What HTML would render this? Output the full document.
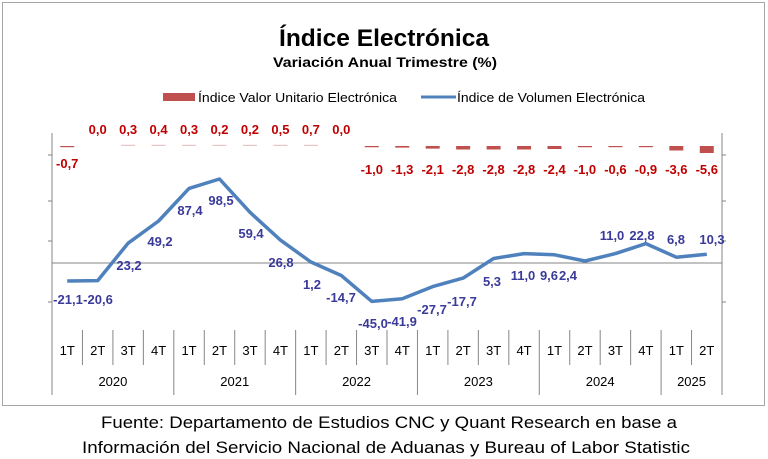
<!DOCTYPE html>
<html><head><meta charset="utf-8"><style>
html,body{margin:0;padding:0;background:#fff}
svg{display:block}
text{font-family:"Liberation Sans",sans-serif}
</style></head><body>
<svg width="768" height="459" viewBox="0 0 768 459">
<rect x="2.5" y="2.5" width="762" height="403" fill="#fff" stroke="#a6a6a6" stroke-width="1"/>
<text x="384" y="46" text-anchor="middle" font-size="24" font-weight="bold" textLength="210" lengthAdjust="spacingAndGlyphs">Índice Electrónica</text>
<text x="385" y="67" text-anchor="middle" font-size="14" font-weight="bold" textLength="224" lengthAdjust="spacingAndGlyphs">Variación Anual Trimestre  (%)</text>
<rect x="163" y="93" width="32" height="8" fill="#c0504d"/>
<text x="198" y="102" font-size="13" textLength="199" lengthAdjust="spacingAndGlyphs">Índice Valor Unitario Electrónica</text>
<line x1="421" y1="97" x2="456" y2="97" stroke="#4f81bd" stroke-width="3"/>
<text x="457" y="102" font-size="13" textLength="188" lengthAdjust="spacingAndGlyphs">Índice de Volumen Electrónica</text>
<g stroke="#868686" stroke-width="1" fill="none">
<line x1="52" y1="133" x2="52" y2="330"/>
<line x1="722" y1="133" x2="722" y2="330"/>
<line x1="52" y1="263" x2="722" y2="263"/>
<line x1="48" y1="155" x2="52" y2="155"/><line x1="48" y1="201" x2="52" y2="201"/><line x1="48" y1="241" x2="52" y2="241"/><line x1="48" y1="302" x2="52" y2="302"/>
<line x1="722" y1="155" x2="726" y2="155"/><line x1="722" y1="201" x2="726" y2="201"/><line x1="722" y1="241" x2="726" y2="241"/><line x1="722" y1="302" x2="726" y2="302"/>
</g>
<g id="cats" stroke="#868686" stroke-width="1"></g>
<g id="bars"></g>
<polyline id="ln" fill="none" stroke="#4f81bd" stroke-width="3.5" stroke-linejoin="round"/>
<g id="lbl" font-size="13" font-weight="bold" fill="#3a3a9a" text-anchor="middle"></g>
<g id="blbl" font-size="13" font-weight="bold" fill="#c00000" text-anchor="middle"></g>
<g id="tk" font-size="13" fill="#000" text-anchor="middle"></g>
<text x="389" y="428" text-anchor="middle" font-size="17" textLength="576" lengthAdjust="spacingAndGlyphs">Fuente: Departamento de Estudios CNC y Quant Research en base a</text>
<text x="386" y="453" text-anchor="middle" font-size="17" textLength="608" lengthAdjust="spacingAndGlyphs">Información del Servicio Nacional de Aduanas y Bureau of Labor Statistic</text>
</svg>
<script>
var NS="http://www.w3.org/2000/svg";
function el(p,t,a,tx){var e=document.createElementNS(NS,t);for(var k in a)e.setAttribute(k,a[k]);if(tx!=null)e.textContent=tx;document.getElementById(p).appendChild(e);}
var w=670/22,x0=52;
var v=[-21.1,-20.6,23.2,49.2,87.4,98.5,59.4,26.8,1.2,-14.7,-45.0,-41.9,-27.7,-17.7,5.3,11.0,9.6,2.4,11.0,22.8,6.8,10.3];
var b=[-0.7,0,0.3,0.4,0.3,0.2,0.2,0.5,0.7,0,-1.0,-1.3,-2.1,-2.8,-2.8,-2.8,-2.4,-1.0,-0.6,-0.9,-3.6,-5.6];
var pts=[];
for(var i=0;i<22;i++){var cx=x0+w*(i+0.5);pts.push(cx.toFixed(1)+","+(263-v[i]*0.853).toFixed(1));
 el("tk","text",{x:cx,y:355},["1T","2T","3T","4T"][i%4]);
 var bv=b[i],h=Math.max(Math.abs(bv)*1.25,1.2);
 var col=bv>0?"#e8c4c4":"#c0504d";
 if(bv!==0) el("bars","rect",{x:cx-7,y:bv>0?146-h:146,width:14,height:h,fill:col});
 var s=bv.toFixed(1).replace(".",",");
 el("blbl","text",{x:cx,y:bv<0?(i==0?168:174):134},s);
}
document.getElementById("ln").setAttribute("points",pts.join(" "));
for(var i=1;i<22;i++){var xx=x0+w*i;var yr=(i%4==0);el("cats","line",{x1:xx,y1:330,x2:xx,y2:yr?395:365});}
el("cats","line",{x1:52,y1:330,x2:52,y2:395});el("cats","line",{x1:722,y1:330,x2:722,y2:395});
var yrs=["2020","2021","2022","2023","2024","2025"];
for(var j=0;j<6;j++){var a=x0+w*4*j,bb=Math.min(x0+w*4*(j+1),722);el("tk","text",{x:(a+bb)/2,y:386},yrs[j]);}
var L=[["-21,1",68,304],["-20,6",98,304],["23,2",129,270],["49,2",160,246],["87,4",190,215],["98,5",221,205],["59,4",251,238],["26,8",281,267],["1,2",312,289],["-14,7",341,302],["-45,0",373,328],["-41,9",402,326],["-27,7",432,314],["-17,7",462,306],["5,3",492,286],["11,0",523,280],["9,6",549,280],["2,4",568,280],["11,0",612,240],["22,8",642,240],["6,8",676,244],["10,3",712,244]];
L.forEach(function(l){el("lbl","text",{x:l[1],y:l[2]},l[0]);});
</script>
</body></html>
